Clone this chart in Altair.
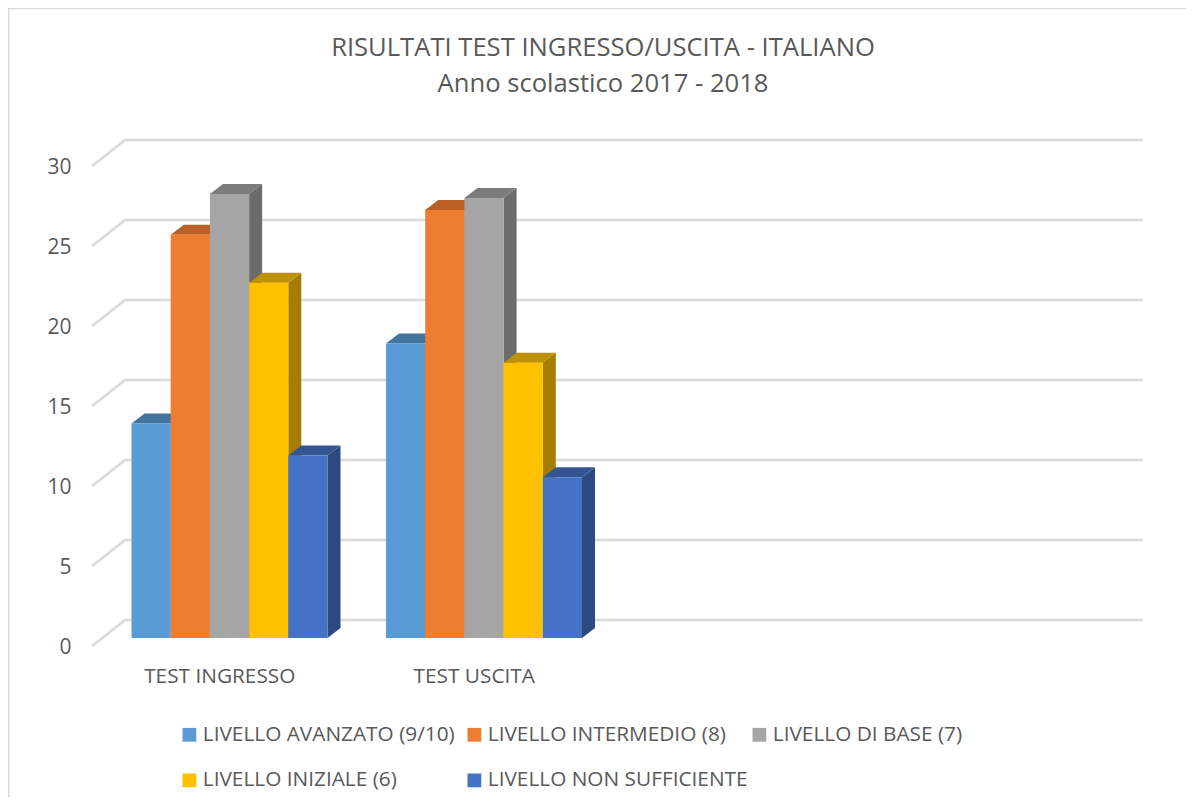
import altair as alt
import pandas as pd

title_lines = ["RISULTATI TEST INGRESSO/USCITA - ITALIANO", "Anno scolastico 2017 - 2018"]
categories = ["TEST INGRESSO", "TEST USCITA"]
series = ["LIVELLO AVANZATO (9/10)", "LIVELLO INTERMEDIO (8)", "LIVELLO DI BASE (7)",
          "LIVELLO INIZIALE (6)", "LIVELLO NON SUFFICIENTE"]
values_ingresso = [13.4, 25.2, 27.75, 22.2, 11.4]
values_uscita = [18.4, 26.75, 27.5, 17.2, 10.05]
front_colors = ["#5B9BD5", "#ED7D31", "#A5A5A5", "#FFC000", "#4472C4"]
top_colors = ["#4474A0", "#B96024", "#7C7C7C", "#BF9000", "#335693"]
side_colors = ["#3B658A", "#9A5120", "#6B6B6B", "#A67D00", "#2C4A7F"]
y_ticks = [0, 5, 10, 15, 20, 25, 30]

W, H = 1178, 789
UNIT_PX = 254.5            # one category slot
Y_PX = 16.0                # one value unit
X0_PX, Y0_PX = 93.5, 630.0 # where slot 0 / value 0 sit in the view


def to_u(px):
    return (px - X0_PX) / UNIT_PX


x_scale = alt.Scale(domain=[to_u(0), to_u(W)], nice=False, zero=False)
y_scale = alt.Scale(domain=[(Y0_PX - H) / Y_PX, Y0_PX / Y_PX], nice=False, zero=False)

BAR_START = 0.118
BAR_W = 0.154
DEPTH_U = 13 / UNIT_PX
DEPTH_V = 10 / Y_PX
WALL_V = 18 / Y_PX
FLOOR_V = -8 / Y_PX
WALL_START = to_u(117)
FLOOR_START = to_u(84)
WALL_END = to_u(1135)

front, top, side = [], [], []
for c, (cat, vals) in enumerate(zip(categories, [values_ingresso, values_uscita])):
    for s, (name, v) in enumerate(zip(series, vals)):
        x0 = c + BAR_START + s * BAR_W
        x1 = x0 + BAR_W
        key = f"{c}-{s}"
        front.append(dict(cat=cat, serie=name, x=x0, x2=x1, y=v, y2=0))
        top.append(dict(key=key, c=top_colors[s], x=x0, x2=x1, y=v))
        top.append(dict(key=key, c=top_colors[s], x=x0 + DEPTH_U, x2=x1 + DEPTH_U, y=v + DEPTH_V))
        side.append(dict(key=key, c=side_colors[s], x=x1, y=v, y2=0))
        side.append(dict(key=key, c=side_colors[s], x=x1 + DEPTH_U, y=v + DEPTH_V, y2=DEPTH_V))

grid = []
for t in y_ticks:
    grid.append(dict(t=t, o=0, x=FLOOR_START, y=t + FLOOR_V))
    grid.append(dict(t=t, o=1, x=WALL_START, y=t + WALL_V))
    grid.append(dict(t=t, o=2, x=WALL_END, y=t + WALL_V))

label_expr = f"datum.value < 1 ? '{categories[0]}' : '{categories[1]}'"
x_axis = alt.Axis(title=None, values=[0.5, 1.5], labelExpr=label_expr, domain=False, ticks=False,
                  grid=False, orient="bottom", offset=-(H - 668), labelPadding=0,
                  labelBaseline="middle", labelOffset=-9.5, labelFontSize=20.8,
                  labelFont="Open Sans", labelColor="#595959", labelFlush=False, labelOverlap=False)
y_axis = alt.Axis(title=None, values=y_ticks, domain=False, ticks=False, grid=False,
                  orient="left", offset=-63, labelPadding=0, labelOffset=9, labelFontSize=21,
                  labelFont="Open Sans", labelColor="#595959", labelFlush=False, labelOverlap=False)
X = alt.X("x:Q", scale=x_scale, axis=x_axis)
Y = alt.Y("y:Q", scale=y_scale, axis=y_axis, stack=None)

grid_layer = alt.Chart(pd.DataFrame(grid)).mark_line(color="#D9D9D9", strokeWidth=2.5).encode(
    x=X, y=Y, detail="t:N", order="o:Q")

side_layer = alt.Chart(pd.DataFrame(side)).mark_area(orient="vertical").encode(
    x=X, y=Y, y2="y2:Q", detail="key:N", fill=alt.Fill("c:N", scale=None, legend=None))

top_layer = alt.Chart(pd.DataFrame(top)).mark_area(orient="horizontal").encode(
    x=X, x2="x2:Q", y=Y, detail="key:N", fill=alt.Fill("c:N", scale=None, legend=None))

front_layer = alt.Chart(pd.DataFrame(front)).mark_rect().encode(
    x=X, x2="x2:Q", y=Y, y2="y2:Q",
    color=alt.Color("serie:N", sort=series,
                    scale=alt.Scale(domain=series, range=front_colors),
                    legend=alt.Legend(title=None, orient="none", legendX=171, legendY=716, columns=3,
                                      direction="horizontal",
                                      gridAlign="all", columnPadding=1, rowPadding=24,
                                      symbolType="square", symbolSize=190, symbolStrokeWidth=0,
                                      labelFont="Open Sans", labelFontSize=20.8, labelColor="#595959",
                                      labelLimit=400, labelOffset=3)))

frame_top = alt.Chart(pd.DataFrame({"a": [0]})).mark_rule(color="#D9D9D9", strokeWidth=1.5).encode(
    x=alt.value(0), x2=alt.value(W), y=alt.value(0.5))
frame_left = alt.Chart(pd.DataFrame({"a": [0]})).mark_rule(color="#D9D9D9", strokeWidth=2).encode(
    y=alt.value(0), y2=alt.value(H), x=alt.value(0.5))

chart = alt.layer(frame_top, frame_left, grid_layer, side_layer, top_layer, front_layer).properties(
    width=W, height=H, padding=0, autosize=alt.AutoSizeParams(type="none"),
    title=alt.TitleParams(text=title_lines, font="Open Sans", fontSize=25.6, fontWeight="normal",
                          color="#595959", anchor="middle", frame="group", orient="top",
                          offset=-91, lineHeight=36, dx=6),
).configure_view(stroke=None).configure(background="white")

chart.save("out.html", embed_options={"renderer": "svg", "actions": False})
